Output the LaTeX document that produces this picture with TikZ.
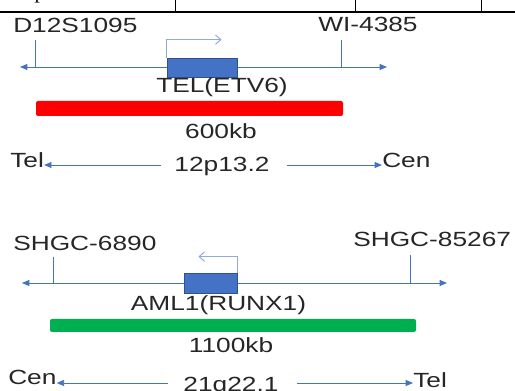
\documentclass[tikz,border=0pt]{standalone}
\usepackage{fontspec}
\usepackage{tikz}
\usetikzlibrary{arrows.meta}

\newfontfamily\chrfont{Liberation Sans}[FakeStretch=1.28]
\newfontfamily\tabfont{Liberation Serif}
\definecolor{lineblue}{RGB}{68,114,196}
\definecolor{promblue}{RGB}{143,170,220}
\definecolor{boxedge}{RGB}{47,82,143}
\definecolor{barred}{RGB}{255,0,0}
\definecolor{bargreen}{RGB}{0,176,80}
\definecolor{txtgray}{RGB}{38,38,38}

\tikzset{
	chrline/.style={draw=lineblue, line width=0.6pt},
	tipline/.style={chrline, -{Triangle[length=5.5pt,width=4.5pt]}},
	bothtip/.style={chrline, {Triangle[length=5.5pt,width=4.5pt]}-{Triangle[length=5.5pt,width=4.5pt]}},
	genebox/.style={draw=boxedge, fill=lineblue, line width=0.6pt, inner sep=0pt},
	promoter/.style={draw=promblue, line width=0.75pt, -{Straight Barb[length=4pt,width=7pt]}},
	kbbar/.style={rounded corners=1.5pt, inner sep=0pt},
	lbl/.style={font=\chrfont\fontsize{15.4}{16}\selectfont, text=txtgray, inner sep=0pt},
}

\begin{document}
\begin{tikzpicture}[x=0.75pt,y=0.75pt,yscale=-1,xscale=1]
		\useasboundingbox (0,0) rectangle (515,391);
		
		%Table: row above the figure
		\coordinate (rowL) at (0,12);
		\coordinate (rowR) at (515,12);
		\draw[line width=1pt] (rowL) -- (rowR);
		\foreach \cx in {175,355,481}
		\draw[line width=0.6pt] (\cx,0) -- (\cx,12);
		% Text Node
		\node (cell) at (80,-1.5) [anchor=base east, inner sep=0pt, font=\tabfont\fontsize{16}{18}\selectfont] {test piece};
		
		%Chromosome 12
		\coordinate (c12L) at (20,67);
		\coordinate (c12R) at (387,67);
		\draw[bothtip] (c12L) -- (c12R);
		% Text Node
		\node (mkD) at (13,33) [lbl, anchor=base west] {D12S1095};
		% Text Node
		\node (mkW) at (318,32) [lbl, anchor=base west] {WI-4385};
		%Ticks
		\coordinate (tkD) at (35,40);
		\coordinate (tkW) at (341,40);
		\draw[chrline] (tkD) -- (tkD |- c12L);
		\draw[chrline] (tkW) -- (tkW |- c12L);
		%Shape: Rectangle
		\node (tel) at (202,67.5) [genebox, minimum width=52.5pt, minimum height=14.25pt] {};
		%Promoter arrow
		\draw[promoter] (tel.north west) -- ++(0,-18) -- ++(55,0);
		% Text Node
		\node (telname) at (222,93) [lbl, anchor=base] {TEL(ETV6)};
		%Shape: Bar
		\node (redbar) at (189.5,108.5) [kbbar, fill=barred, minimum width=230.25pt, minimum height=11.25pt] {};
		% Text Node
		\node (telkb) at (221,139) [lbl, anchor=base] {600kb};
		% Text Node
		\node (telTel) at (10,168) [lbl, anchor=base west] {Tel};
		% Text Node
		\node (telband) at (222,172) [lbl, anchor=base] {12p13.2};
		% Text Node
		\node (telCen) at (382,168) [lbl, anchor=base west] {Cen};
		\coordinate (b12L) at (161,165);
		\coordinate (b12R) at (287,165);
		\draw[tipline] (b12L) -- (telTel.east |- b12L);
		\draw[tipline] (b12R) -- (telCen.west |- b12R);
		
		%Chromosome 21
		\coordinate (c21L) at (22,283);
		\coordinate (c21R) at (447,283);
		\draw[bothtip] (c21L) -- (c21R);
		% Text Node
		\node (mkS1) at (13,251) [lbl, anchor=base west] {SHGC-6890};
		% Text Node
		\node (mkS2) at (353,247) [lbl, anchor=base west] {SHGC-85267};
		%Ticks
		\coordinate (tkS1) at (53,257);
		\coordinate (tkS2) at (410,255);
		\draw[chrline] (tkS1) -- (tkS1 |- c21L);
		\draw[chrline] (tkS2) -- (tkS2 |- c21L);
		%Shape: Rectangle
		\node (aml) at (210.5,283) [genebox, minimum width=39.75pt, minimum height=15pt] {};
		%Promoter arrow
		\draw[promoter] (aml.north east) -- ++(0,-16) -- ++(-39,0);
		% Text Node
		\node (amlname) at (218.5,311) [lbl, anchor=base] {AML1(RUNX1)};
		%Shape: Bar
		\node (greenbar) at (233,325.5) [kbbar, fill=bargreen, minimum width=274.5pt, minimum height=9.75pt] {};
		% Text Node
		\node (amlkb) at (231,353) [lbl, anchor=base] {1100kb};
		% Text Node
		\node (amlCen) at (8,385) [lbl, anchor=base west] {Cen};
		% Text Node
		\node (amlband) at (231,392) [lbl, anchor=base] {21q22.1};
		% Text Node
		\node (amlTel) at (413,388) [lbl, anchor=base west] {Tel};
		\coordinate (b21L) at (168,383);
		\coordinate (b21R) at (297,383);
		\draw[tipline] (b21L) -- (amlCen.east |- b21L);
		\draw[tipline] (b21R) -- (amlTel.west |- b21R);
		
\end{tikzpicture}
\end{document}
